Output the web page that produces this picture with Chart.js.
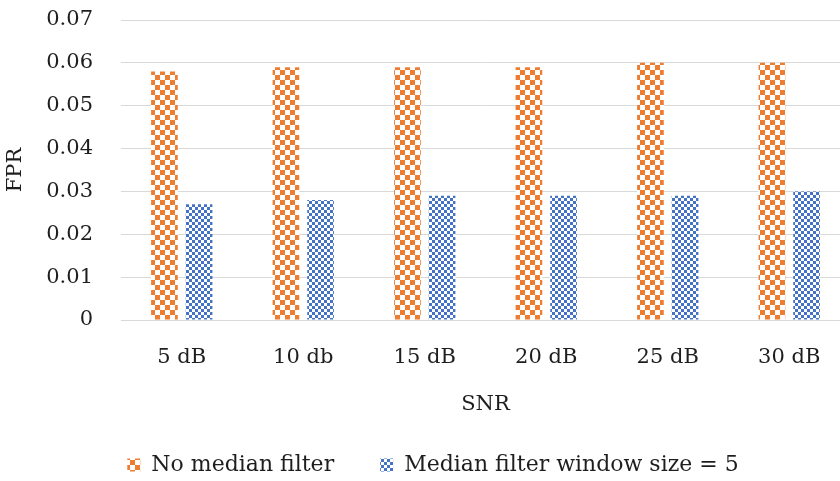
<!DOCTYPE html>
<html>
<head>
<meta charset="utf-8">
<script src="https://cdn.jsdelivr.net/npm/chart.js@4"></script>
<style>
  html, body { margin: 0; padding: 0; background: #fff; overflow: hidden; }
  #wrap { width: 852px; height: 481px; }
</style>
</head>
<body>
<div id="wrap"><canvas id="chart" width="852" height="481"></canvas></div>
<script>
// ─── Daten ──────────────────────────────────────────────────────────────────

const snrLabels = ['5 dB', '10 db', '15 dB', '20 dB', '25 dB', '30 dB'];
const noMedian = [0.058, 0.059, 0.059, 0.059, 0.060, 0.060];
const medianWin5 = [0.027, 0.028, 0.029, 0.029, 0.029, 0.030];
const seriesNames = ['No median filter', 'Median filter window size = 5'];
const yTicks = [0, 0.01, 0.02, 0.03, 0.04, 0.05, 0.06, 0.07];

// ─── Muster (Schachbrett) ───────────────────────────────────────────────────

function checker(color, cell) {
  const c = document.createElement('canvas');
  c.width = cell * 2; c.height = cell * 2;
  const g = c.getContext('2d');
  g.fillStyle = '#fff';
  g.fillRect(0, 0, c.width, c.height);
  g.fillStyle = color;
  g.fillRect(0, 0, cell, cell);
  g.fillRect(cell, cell, cell, cell);
  return g.createPattern(c, 'repeat');
}

const orangePat = checker('#ED7D31', 5);
const bluePat = checker('#4472C4', 3);

const FONT = "'DejaVu Serif', serif";
const TXT = '#1e1e1e';

// Legende leicht nach rechts schieben (Original ist nicht mittig)
const legendShift = {
  id: 'legendShift',
  afterLayout(chart) {
    chart.legend.left += 8;
    chart.legend.right += 8;
  },
};

new Chart(document.getElementById('chart'), {
  type: 'bar',
  data: {
    labels: snrLabels,
    datasets: [
      { label: seriesNames[0], data: noMedian, backgroundColor: orangePat, borderWidth: 0 },
      { label: seriesNames[1], data: medianWin5, backgroundColor: bluePat, borderWidth: 0 },
    ],
  },
  plugins: [legendShift],
  options: {
    responsive: false,
    animation: false,
    devicePixelRatio: 1,
    categoryPercentage: 0.57,
    barPercentage: 0.77,
    layout: { padding: { top: 20, left: 0, right: 2, bottom: -5 } },
    plugins: {
      tooltip: { enabled: false },
      legend: {
        position: 'bottom',
        labels: {
          color: TXT,
          font: { family: FONT, size: 22 },
          boxWidth: 13, boxHeight: 13,
          padding: 46,
        },
      },
    },
    scales: {
      x: {
        grid: { display: false, drawTicks: false },
        border: { color: '#d9d9d9' },
        ticks: { color: TXT, font: { family: FONT, size: 21 }, padding: 25, maxRotation: 0 },
        title: { display: true, text: 'SNR', color: TXT, font: { family: FONT, size: 21 }, padding: { top: 0, bottom: -9 } },
        afterFit(scale) { scale.height = 88; },
      },
      y: {
        min: 0, max: 0.07,
        bounds: 'data',
        afterBuildTicks(scale) { scale.ticks = yTicks.map(v => ({ value: v })); },
        grid: { color: '#d9d9d9', drawTicks: false },
        border: { display: false },
        ticks: {
          color: TXT, font: { family: FONT, size: 21 }, padding: 28,
          callback: v => String(Math.round(v * 100) / 100),
        },
        title: { display: true, text: 'FPR', color: TXT, font: { family: FONT, size: 21 }, padding: { top: 3, bottom: 0 } },
        afterFit(scale) {
          // Tick-Padding soll nicht als Rand oben/unten zählen
          scale.width = 121;
          scale.paddingTop = 0;
          scale.paddingBottom = 0;
        },
      },
    },
  },
});
</script>
</body>
</html>
